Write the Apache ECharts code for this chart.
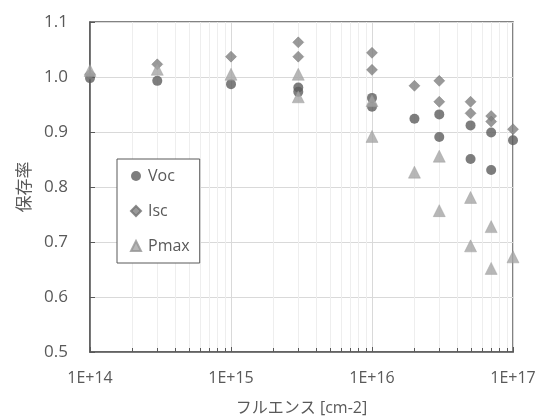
<!DOCTYPE html>
<html>
<head>
<meta charset="utf-8">
<script src="https://cdn.jsdelivr.net/npm/echarts@6/dist/echarts.min.js"></script>
<style>
html,body{margin:0;padding:0;background:#fff;}
#chart{width:539px;height:419px;}
</style>
</head>
<body>
<div id="chart"></div>
<script>
// ---- data ----
const seriesNames = ['Voc', 'Isc', 'Pmax'];
const vocX  = [1e14, 3e14, 1e15, 3e15, 3e15, 1e16, 1e16, 2e16, 3e16, 3e16, 5e16, 5e16, 7e16, 7e16, 1e17];
const vocY  = [0.998, 0.993, 0.987, 0.981, 0.973, 0.962, 0.946, 0.924, 0.932, 0.891, 0.912, 0.851, 0.899, 0.831, 0.885];
const iscX  = [1e14, 3e14, 1e15, 3e15, 3e15, 1e16, 1e16, 2e16, 3e16, 3e16, 5e16, 5e16, 7e16, 7e16, 1e17];
const iscY  = [1.005, 1.023, 1.037, 1.063, 1.037, 1.044, 1.013, 0.984, 0.993, 0.955, 0.955, 0.934, 0.929, 0.919, 0.905];
const pmaxX = [1e14, 3e14, 1e15, 3e15, 3e15, 1e16, 1e16, 2e16, 3e16, 3e16, 5e16, 5e16, 7e16, 7e16, 1e17];
const pmaxY = [1.012, 1.014, 1.005, 1.005, 0.964, 0.957, 0.892, 0.827, 0.856, 0.757, 0.781, 0.693, 0.728, 0.652, 0.673];
const xTickLabels = ['1E+14', '1E+15', '1E+16', '1E+17'];
const xTickValues = [1e14, 1e15, 1e16, 1e17];
const minorMultipliers = [2, 3, 4, 5, 6, 7, 8, 9];
const decades = [1e14, 1e15, 1e16];
const xTitle = 'フルエンス [cm-2]';
const yTitle = '保存率';

const minorTicks = [];
decades.forEach(d => minorMultipliers.forEach(m => minorTicks.push([m * d, 0.5])));

const pairs = (xs, ys) => xs.map((x, i) => [x, ys[i]]);
const TXT = '#595959';
const FONT = "'Open Sans', 'Noto Sans CJK JP', sans-serif";

const chart = echarts.init(document.getElementById('chart'), null, {renderer: 'canvas'});
chart.setOption({
  animation: false,
  backgroundColor: '#fff',
  textStyle: {fontFamily: FONT},
  grid: {left: 90, right: 26, top: 22, bottom: 67, containLabel: false, outerBoundsMode: 'none',
         show: true, borderColor: '#595959', borderWidth: 1.5, backgroundColor: 'transparent'},
  legend: {
    data: seriesNames,
    orient: 'vertical',
    left: 117, top: 159,
    padding: [9, 10, 9, 13],
    itemGap: 19,
    itemWidth: 10, itemHeight: 10,
    borderColor: '#595959', borderWidth: 1,
    backgroundColor: '#fff',
    textStyle: {fontSize: 16, color: TXT, lineHeight: 16, fontFamily: FONT, padding: [0, 0, 0, 2]}
  },
  xAxis: {
    type: 'log', logBase: 10, min: 1e14, max: 1e17,
    name: xTitle, nameLocation: 'middle', nameGap: 48,
    nameTextStyle: {fontSize: 16, color: TXT, fontFamily: FONT},
    axisLine: {show: true, lineStyle: {color: '#595959', width: 1.5}},
    axisTick: {show: true, inside: true, length: 5, lineStyle: {color: '#595959'}},
    axisLabel: {
      fontSize: 16, color: TXT, margin: 18, fontFamily: FONT,
      formatter: v => { const i = xTickValues.findIndex(t => Math.abs(Math.log10(t) - Math.log10(v)) < 1e-6); return i >= 0 ? xTickLabels[i] : ''; }
    },
    splitLine: {show: true, lineStyle: {color: '#d9d9d9', width: 1}}
  },
  yAxis: {
    type: 'value', min: 0.5, max: 1.1, interval: 0.1,
    name: yTitle, nameLocation: 'middle', nameGap: 54, nameRotate: 90,
    nameTextStyle: {fontSize: 17, color: TXT, fontFamily: FONT},
    axisLine: {show: true, lineStyle: {color: '#595959', width: 1.5}},
    axisTick: {show: true, inside: true, length: 5, lineStyle: {color: '#595959'}},
    axisLabel: {fontSize: 17, color: TXT, margin: 22, fontFamily: FONT, formatter: v => v.toFixed(1)},
    splitLine: {show: true, lineStyle: {color: '#d9d9d9', width: 1}}
  },
  series: [
    {
      type: 'custom', name: 'minor', silent: true, z: 1,
      data: minorTicks,
      renderItem: (params, api) => {
        const x = api.value(0);
        const top = api.coord([x, 1.1]);
        const bot = api.coord([x, 0.5]);
        const px = Math.round(top[0]) + 0.5;
        return {type: 'group', children: [
          {type: 'line', shape: {x1: px, y1: top[1], x2: px, y2: bot[1]}, style: {stroke: '#eeeeee', lineWidth: 1}},
          {type: 'line', shape: {x1: px, y1: bot[1], x2: px, y2: bot[1] - 4}, style: {stroke: '#595959', lineWidth: 1}}
        ]};
      }
    },
    {name: 'Voc', type: 'scatter', symbol: 'circle', symbolSize: 10, z: 3,
     itemStyle: {color: '#5c5c5c'}, data: pairs(vocX, vocY)},
    {name: 'Isc', type: 'scatter', symbol: 'diamond', symbolSize: 11, z: 4,
     itemStyle: {color: '#808080', borderColor: '#707070', borderWidth: 0.5}, data: pairs(iscX, iscY)},
    {name: 'Pmax', type: 'scatter', symbol: 'triangle', symbolSize: 12, z: 5,
     itemStyle: {color: '#a5a5a5', borderColor: '#959595', borderWidth: 0.5}, data: pairs(pmaxX, pmaxY)}
  ]
});
</script>
</body>
</html>
